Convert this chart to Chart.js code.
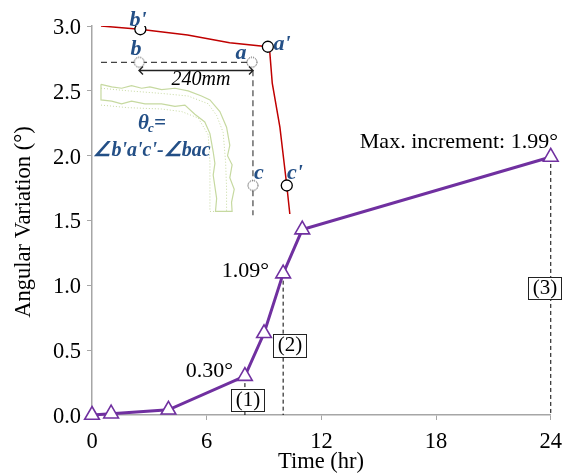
<!DOCTYPE html>
<html>
<head>
<meta charset="utf-8">
<script src="https://cdn.jsdelivr.net/npm/chart.js@4"></script>
<style>
  html, body { margin: 0; padding: 0; background: #fff; }
  canvas { display: block; }
</style>
</head>
<body>
<canvas id="chart" width="571" height="474"></canvas>
<script>
// main series
const hours = [0, 1, 4, 8, 9, 10, 11, 24];
const angle = [0, 0.01, 0.04, 0.30, 0.63, 1.09, 1.43, 1.99];
const xTicks = [0, 6, 12, 18, 24];
const yTicks = [0, 0.5, 1, 1.5, 2, 2.5, 3];

// inset sketch, given in axis units (hr, deg)
const deformedX = [0.47, 2.5, 5.0, 7.2, 9.2, 9.3, 9.43, 9.83, 10.19, 10.35];
const deformedY = [3.0, 2.975, 2.93, 2.87, 2.84, 2.8, 2.56, 2.22, 1.77, 1.55];
const solidCircleX = [2.53, 9.2, 10.19];
const solidCircleY = [2.975, 2.84, 1.77];
const dottedCircleX = [2.47, 8.37, 8.42];
const dottedCircleY = [2.72, 2.72, 1.77];
const refLineX = [0.47, 8.37, 8.42, 8.42];
const refLineY = [2.72, 2.72, 2.72, 1.54];
const outerX = [0.47, 1.03, 1.55, 2.07, 2.6, 3.03, 3.64, 4.34, 5.03, 5.73, 6.17, 6.69, 7.04, 7.21, 7.09, 7.33, 7.21, 7.44, 7.3, 7.33, 6.46,
  6.52, 6.34, 6.43, 6.34, 6.17, 5.9, 5.38, 4.86, 4.34, 3.64, 2.77, 2.07, 1.55, 1.03, 0.47, 0.47];
const outerY = [2.55, 2.53, 2.52, 2.54, 2.52, 2.53, 2.51, 2.52, 2.5, 2.46, 2.43, 2.34, 2.22, 2.08, 2.0, 1.93, 1.83, 1.74, 1.64, 1.57, 1.57,
  1.67, 1.85, 1.94, 2.03, 2.17, 2.26, 2.32, 2.39, 2.38, 2.4, 2.4, 2.42, 2.4, 2.42, 2.43, 2.55];
const innerAX = [0.47, 1.9, 3.64, 5.03, 6.08, 6.52, 6.86, 6.99, 7.04, 7.04];
const innerAY = [2.52, 2.5, 2.48, 2.46, 2.4, 2.31, 2.18, 1.95, 1.75, 1.57];
const innerBX = [0.47, 1.9, 3.64, 4.69, 5.56, 6.08, 6.17, 6.17, 6.17, 6.46];
const innerBY = [2.39, 2.37, 2.36, 2.34, 2.29, 2.16, 1.95, 1.72, 1.57, 1.57];

const serif = '"Liberation Serif", serif';
const inkBlue = '#234f86';

const toPoints = (xs, ys) => xs.map((x, i) => ({ x: x, y: ys[i] }));

// chart.js points have no dashed border, so the dotted marker is a small canvas
const dottedCircle = document.createElement('canvas');
dottedCircle.width = 14;
dottedCircle.height = 14;
const dc = dottedCircle.getContext('2d');
dc.fillStyle = '#fff';
dc.strokeStyle = '#222';
dc.lineWidth = 1;
dc.setLineDash([1, 1]);
dc.beginPath();
dc.arc(7, 7, 5, 0, Math.PI * 2);
dc.fill();
dc.stroke();

// text, boxes and drop lines that chart.js has no element for
const notes = {
  id: 'notes',
  beforeDatasetsDraw(chart) {
    const { ctx, scales: { x, y } } = chart;
    ctx.save();
    ctx.strokeStyle = '#000';
    ctx.lineWidth = 1;
    ctx.setLineDash([4, 3]);
    [[8, 0.30], [10, 1.09], [24, 1.99]].forEach(([h, v]) => {
      ctx.beginPath();
      ctx.moveTo(x.getPixelForValue(h), y.getPixelForValue(v));
      ctx.lineTo(x.getPixelForValue(h), y.getPixelForValue(0));
      ctx.stroke();
    });
    ctx.restore();
  },
  afterDatasetsDraw(chart) {
    const { ctx } = chart;
    ctx.save();
    ctx.textBaseline = 'middle';

    const text = (s, px, py, font, color, align) => {
      ctx.font = font;
      ctx.fillStyle = color || '#000';
      ctx.textAlign = align || 'center';
      ctx.fillText(s, px, py);
    };

    // axis titles
    text('Time (hr)', 321, 462, '22.5px ' + serif);
    ctx.save();
    ctx.translate(24, 222);
    ctx.rotate(-Math.PI / 2);
    text('Angular Variation (°)', 0, 0, '22.5px ' + serif);
    ctx.restore();

    // value notes
    text('Max. increment: 1.99°', 558, 142, '22px ' + serif, '#000', 'right');
    text('1.09°', 269, 271, '22px ' + serif, '#000', 'right');
    text('0.30°', 233, 371, '22px ' + serif, '#000', 'right');

    // boxed stage labels
    [['(1)', 231, 389, 33, 22], ['(2)', 273, 334, 33, 23], ['(3)', 528, 277, 33, 22]].forEach(([s, bx, by, w, h]) => {
      ctx.fillStyle = '#fff';
      ctx.fillRect(bx, by, w, h);
      ctx.strokeStyle = '#222';
      ctx.lineWidth = 1;
      ctx.strokeRect(bx + 0.5, by + 0.5, w, h);
      text(s, bx + w / 2 + 0.5, by + h / 2, '21px ' + serif);
    });

    // inset labels
    const blue = 'italic bold 22px ' + serif;
    text("b'", 138, 20, blue, inkBlue);
    text('b', 136, 49, blue, inkBlue);
    text('a', 241, 53, blue, inkBlue);
    text("a'", 282, 44, blue, inkBlue);
    text('c', 259, 173, blue, inkBlue);
    text("c'", 295, 173, blue, inkBlue);
    text('240mm', 201, 80, 'italic 20px ' + serif);

    text('θ', 138, 124, 'italic bold 21px ' + serif, inkBlue, 'left');
    text('c', 148, 129, 'italic bold 13px ' + serif, inkBlue, 'left');
    text('=', 154, 124, 'italic bold 21px ' + serif, inkBlue, 'left');
    text("∠b'a'c'-∠bac", 152, 151, 'italic bold 20px ' + serif, inkBlue);

    // 240mm dimension arrow
    ctx.strokeStyle = '#222';
    ctx.lineWidth = 1.4;
    ctx.beginPath();
    ctx.moveTo(139, 70.5);
    ctx.lineTo(253, 70.5);
    ctx.moveTo(143, 66.5);
    ctx.lineTo(139, 70.5);
    ctx.lineTo(143, 74.5);
    ctx.moveTo(249, 66.5);
    ctx.lineTo(253, 70.5);
    ctx.lineTo(249, 74.5);
    ctx.stroke();
    ctx.restore();
  }
};

// chart.js paints the first dataset last, so the main series goes first
new Chart(document.getElementById('chart'), {
  type: 'scatter',
  data: {
    datasets: [
      {
        data: toPoints(hours, angle),
        showLine: true, borderColor: '#7030a0', borderWidth: 3, clip: false,
        pointStyle: 'triangle', pointRadius: 8.5, pointBackgroundColor: '#fff',
        pointBorderColor: '#7030a0', pointBorderWidth: 1.6
      },
      {
        data: toPoints(solidCircleX, solidCircleY),
        pointStyle: 'circle', pointRadius: 5.5, pointBackgroundColor: '#fff',
        pointBorderColor: '#000', pointBorderWidth: 1.3
      },
      {
        data: toPoints(dottedCircleX, dottedCircleY),
        pointStyle: dottedCircle
      },
      {
        data: toPoints(deformedX, deformedY),
        showLine: true, borderColor: '#c00000', borderWidth: 1.5, pointRadius: 0
      },
      {
        data: toPoints(refLineX, refLineY),
        showLine: true, borderColor: '#444', borderWidth: 1.2, borderDash: [6, 4], pointRadius: 0
      },
      {
        data: toPoints(innerBX, innerBY),
        showLine: true, borderColor: '#c6d9a0', borderWidth: 1, borderDash: [1, 2], pointRadius: 0
      },
      {
        data: toPoints(innerAX, innerAY),
        showLine: true, borderColor: '#c6d9a0', borderWidth: 1, borderDash: [1, 2], pointRadius: 0
      },
      {
        data: toPoints(outerX, outerY),
        showLine: true, borderColor: '#c6d9a0', borderWidth: 1.2, pointRadius: 0
      }
    ]
  },
  options: {
    responsive: false,
    animation: false,
    layout: { padding: { top: 26, right: 20, left: 0, bottom: 0 } },
    plugins: { legend: { display: false }, tooltip: { enabled: false } },
    scales: {
      x: {
        type: 'linear',
        min: 0,
        max: 24,
        afterBuildTicks: (axis) => { axis.ticks = xTicks.map((v) => ({ value: v })); },
        afterFit: (axis) => { axis.height = 59; },
        grid: { drawOnChartArea: false, color: '#a6a6a6', tickLength: 5, tickColor: '#a6a6a6' },
        border: { color: '#a6a6a6', width: 1.5 },
        ticks: { color: '#000', maxRotation: 0, padding: 9, font: { family: serif, size: 22.5 } }
      },
      y: {
        min: 0,
        max: 3,
        afterBuildTicks: (axis) => { axis.ticks = yTicks.map((v) => ({ value: v })); },
        afterFit: (axis) => { axis.width = 92; },
        grid: { drawOnChartArea: false, color: '#a6a6a6', tickLength: 5, tickColor: '#a6a6a6' },
        border: { color: '#a6a6a6', width: 1.5 },
        ticks: { color: '#000', padding: 6, labelOffset: 2, font: { family: serif, size: 22.5 }, callback: (v) => v.toFixed(1) }
      }
    }
  },
  plugins: [notes]
});
</script>
</body>
</html>
